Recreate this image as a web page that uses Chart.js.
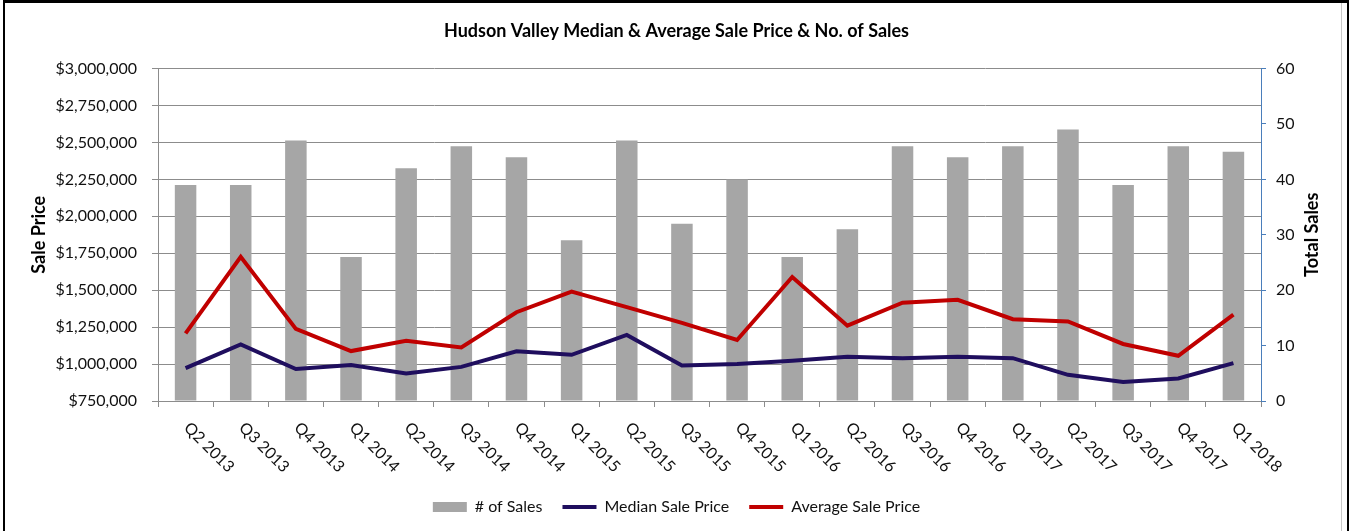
<!DOCTYPE html>
<html>
<head>
<meta charset="utf-8">
<script src="https://cdn.jsdelivr.net/npm/chart.js@4.4.1/dist/chart.umd.min.js"></script>
<style>
  html, body { margin: 0; padding: 0; background: #fff; }
  #wrap { position: relative; width: 1353px; height: 531px; overflow: hidden; }
  #frame { position: absolute; left: 3px; top: 0; width: 1342px; height: 540px;
           border-left: 2px solid #000; border-top: 3px solid #000; border-right: 2px solid #000; }
  #grayLine { position: absolute; left: 1341px; top: 3px; width: 1px; height: 528px; background: #c8c8c8; }
  canvas { position: absolute; left: 0; top: 0; }
</style>
</head>
<body>
<div id="wrap">
  <canvas id="miGrafico" width="1353" height="531"></canvas>
  <div id="frame"></div>
  <div id="grayLine"></div>
</div>
<script>
// Datos del grafico
const quarters = ['Q2 2013', 'Q3 2013', 'Q4 2013', 'Q1 2014', 'Q2 2014', 'Q3 2014', 'Q4 2014',
                  'Q1 2015', 'Q2 2015', 'Q3 2015', 'Q4 2015', 'Q1 2016', 'Q2 2016', 'Q3 2016',
                  'Q4 2016', 'Q1 2017', 'Q2 2017', 'Q3 2017', 'Q4 2017', 'Q1 2018'];
const numSales = [39, 39, 47, 26, 42, 46, 44, 29, 47, 32, 40, 26, 31, 46, 44, 46, 49, 39, 46, 45];
const medianPrice = [972000, 1133000, 966000, 993000, 936000, 981000, 1086000, 1063000, 1197000, 991000,
                     1000000, 1022000, 1050000, 1040000, 1050000, 1040000, 927000, 879000, 902000, 1006000];
const averagePrice = [1208000, 1726000, 1238000, 1088000, 1158000, 1113000, 1351000, 1490000, 1385000, 1279000,
                      1163000, 1589000, 1260000, 1415000, 1435000, 1304000, 1288000, 1136000, 1056000, 1335000];
const priceTicks = [750000, 3000000, 250000];   // min, max, paso
const salesTicks = [0, 60, 10];

const fontFamily = "Lato, 'Open Sans', sans-serif";
Chart.defaults.font.family = fontFamily;
Chart.defaults.font.size = 16;
Chart.defaults.color = '#111';

// Etiquetas del eje X giradas 45 grados y titulo del eje derecho
const customLabels = {
    id: 'customLabels',
    afterDraw(chart) {
        const ctx = chart.ctx;
        const xScale = chart.scales.x;
        const rScale = chart.scales.ySales;
        ctx.save();
        ctx.fillStyle = '#111';
        ctx.font = '16px ' + fontFamily;
        ctx.textAlign = 'left';
        ctx.textBaseline = 'middle';
        quarters.forEach((q, i) => {
            const x = xScale.getPixelForValue(i);
            ctx.save();
            ctx.translate(x + 1, xScale.top + 24);
            ctx.rotate(Math.PI / 4);
            ctx.fillText(q, 0, 0);
            ctx.restore();
        });
        ctx.fillStyle = '#000';
        ctx.font = 'bold 18px ' + fontFamily;
        ctx.textAlign = 'center';
        ctx.translate(rScale.left + 51, (chart.chartArea.top + chart.chartArea.bottom) / 2);
        ctx.rotate(-Math.PI / 2);
        ctx.fillText('Total Sales', 0, 0);
        ctx.restore();
    }
};

const mostrar = document.getElementById('miGrafico');
const grafico = new Chart(mostrar, {
    type: 'bar',
    data: {
        labels: quarters,
        datasets: [{
                label: '# of Sales',
                data: numSales,
                yAxisID: 'ySales',
                backgroundColor: '#a6a6a6',
                borderWidth: 0,
                barPercentage: 0.39,
                categoryPercentage: 1,
                pointStyle: 'rect',
                order: 2,
            }, {
                type: 'line',
                label: 'Median Sale Price',
                data: medianPrice,
                yAxisID: 'yPrice',
                borderColor: '#1f0e5e',
                backgroundColor: '#1f0e5e',
                borderWidth: 4,
                pointRadius: 0,
                pointStyle: 'line',
                tension: 0,
                order: 1,
            }, {
                type: 'line',
                label: 'Average Sale Price',
                data: averagePrice,
                yAxisID: 'yPrice',
                borderColor: '#c00000',
                backgroundColor: '#c00000',
                borderWidth: 4,
                pointRadius: 0,
                pointStyle: 'line',
                tension: 0,
                order: 0,
            },
        ],
    },
    options: {
        responsive: false,
        animation: false,
        layout: { padding: { left: 8, right: 8, top: 0, bottom: 6 } },
        plugins: {
            title: {
                display: true,
                text: 'Hudson Valley Median & Average Sale Price & No. of Sales',
                font: { size: 18, weight: 'bold' },
                color: '#000',
                padding: { top: 20, bottom: 27 },
            },
            legend: {
                position: 'bottom',
                labels: {
                    usePointStyle: true,
                    pointStyleWidth: 34,
                    boxHeight: 10,
                    padding: 20,
                    font: { size: 16 },
                    sort: (a, b) => a.datasetIndex - b.datasetIndex,
                },
            },
            tooltip: { enabled: false },
        },
        scales: {
            x: {
                offset: true,
                grid: { display: true, drawOnChartArea: false, drawTicks: true, tickLength: 6, color: '#8c8c8c', offset: true },
                border: { color: '#8c8c8c' },
                ticks: { display: false },
                afterFit: (scale) => { scale.height = 78; },
            },
            yPrice: {
                position: 'left',
                min: priceTicks[0],
                max: priceTicks[1],
                ticks: {
                    stepSize: priceTicks[2],
                    padding: 15,
                    callback: (v) => '$' + v.toLocaleString('en-US'),
                },
                grid: { color: '#8c8c8c', tickLength: 6 },
                border: { color: '#8c8c8c' },
                title: {
                    display: true,
                    text: 'Sale Price',
                    font: { size: 18, weight: 'bold' },
                    color: '#000',
                    padding: { top: 20, bottom: 0 },
                },
                afterFit: (scale) => { scale.width = 150; },
            },
            ySales: {
                position: 'right',
                min: salesTicks[0],
                max: salesTicks[1],
                ticks: { stepSize: salesTicks[2], padding: 10 },
                grid: { drawOnChartArea: false, color: '#4a7ebb', tickLength: 5 },
                border: { color: '#4a7ebb' },
                afterFit: (scale) => { scale.width = 84; },
            },
        },
    },
    plugins: [customLabels],
});
</script>
</body>
</html>
